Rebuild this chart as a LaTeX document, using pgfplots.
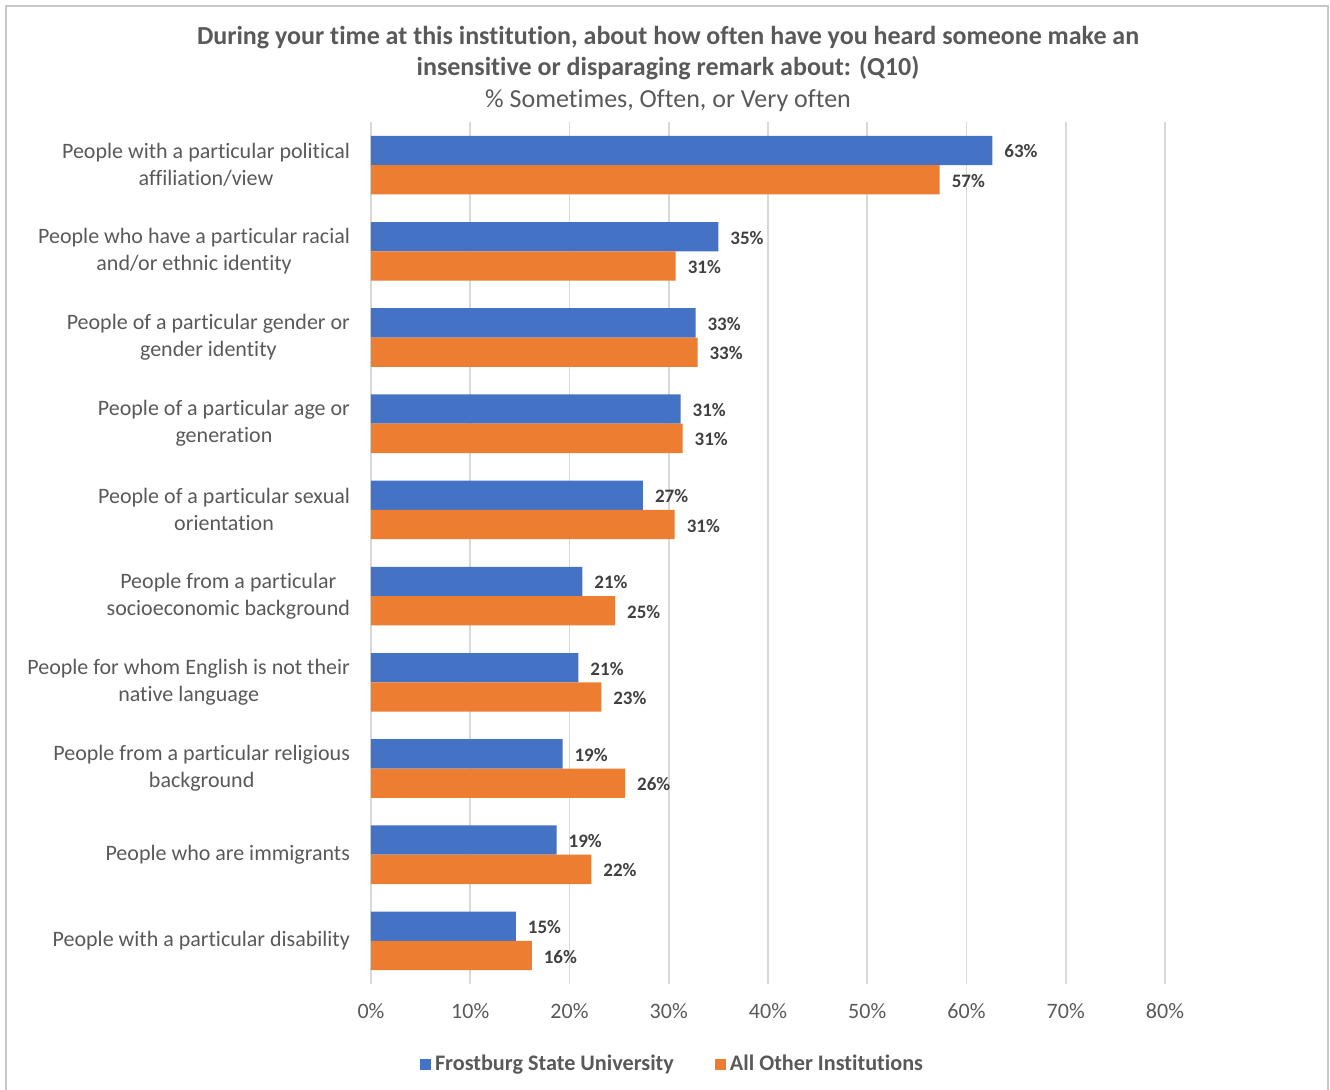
\documentclass[border=0pt]{standalone}
\usepackage{pgfplots}
\pgfplotsset{compat=1.18}
\usepackage{fontspec}
\setmainfont{Carlito}[Ligatures=NoCommon]
\definecolor{cblue}{HTML}{4472C4}
\definecolor{corange}{HTML}{ED7D31}
\definecolor{txt}{HTML}{595959}
\definecolor{lbl}{HTML}{404040}
\definecolor{grd}{HTML}{D9D9D9}
\begin{document}
\begin{tikzpicture}
\begin{scope}[x=0.5pt,y=-0.5pt]
\path[use as bounding box] (0,0) rectangle (1330,1089);
\draw[color=grd!80!gray, line width=0.8pt] (6,1095) -- (6,6) -- (1328,6) -- (1328,1095);
\node[font=\fontsize{13}{15.5}\selectfont\bfseries, text=txt, align=center] at (668,53.5)
  {During your time at this institution, about how often have you heard someone make an\\insensitive or disparaging remark about: (Q10)};
\node[font=\fontsize{13}{15.5}\selectfont, text=txt] at (668,100.5) {\% Sometimes, Often, or Very often};
\end{scope}
\begin{axis}[
  at={(185.5pt,-492pt)}, anchor=south west,
  scale only axis, width=397pt, height=431pt,
  xmin=0, xmax=80, ymin=-0.5, ymax=9.5, y dir=reverse,
  /pgf/number format/assume math mode=true,
  xtick={0,10,...,80},
  xticklabels={0\%,10\%,20\%,30\%,40\%,50\%,60\%,70\%,80\%},
  xmajorgrids, grid style={color=grd, line width=0.8pt},
  axis line style={draw=none}, major tick length=0pt,
  xticklabel style={font=\fontsize{11}{13}\selectfont, text=txt, yshift=-6pt},
  ytick={0,...,9},
  yticklabels={
    {People with a particular political\\affiliation/view},
    {People who have a particular racial\\and/or ethnic identity},
    {People of a particular gender or\\gender identity},
    {People of a particular age or\\generation},
    {People of a particular sexual\\orientation},
    {People from a particular\\socioeconomic background},
    {People for whom English is not their\\native language},
    {People from a particular religious\\background},
    {People who are immigrants},
    {People with a particular disability}},
  yticklabel style={font=\fontsize{11}{13.5}\selectfont, text=txt, align=center, xshift=-7pt},
  xbar, bar width=0.34,
  nodes near coords={\pgfmathprintnumber[fixed,precision=0]{\pgfplotspointmeta}\%},
  nodes near coords style={font=\fontsize{9.5}{11}\selectfont\bfseries, text=lbl, anchor=west, xshift=2.5pt, yshift=-0.5pt},
  legend style={at={(0.381,-0.0928)}, anchor=center, draw=none, fill=none,
    legend columns=2, font=\fontsize{11.1}{13}\selectfont\bfseries, text=txt,
    /tikz/every even column/.append style={column sep=18.5pt}},
  legend image code/.code={\fill[#1,draw=none] (0pt,-2.75pt) rectangle (5.5pt,2.75pt);},
]
\addplot[fill=cblue, draw=none, bar shift=-0.17] coordinates {
  (62.6,0) (35.0,1) (32.7,2) (31.2,3) (27.4,4) (21.3,5) (20.9,6) (19.3,7) (18.7,8) (14.6,9)};
\addlegendentry{Frostburg State University}
\addplot[fill=corange, draw=none, bar shift=0.17] coordinates {
  (57.3,0) (30.7,1) (32.9,2) (31.4,3) (30.6,4) (24.6,5) (23.2,6) (25.6,7) (22.2,8) (16.2,9)};
\addlegendentry{All Other Institutions}
\end{axis}
\end{tikzpicture}
\end{document}
